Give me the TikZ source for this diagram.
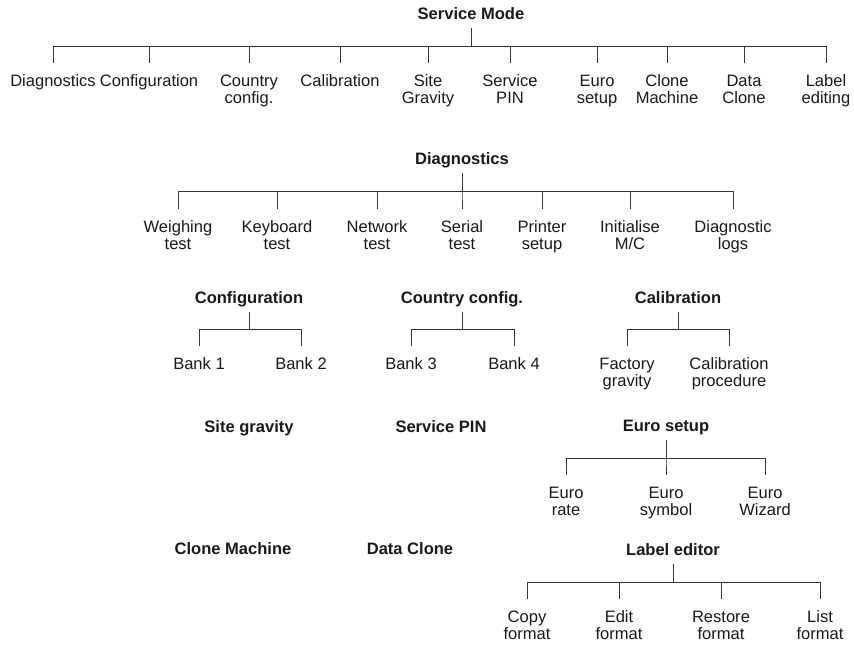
\documentclass[tikz,border=0pt]{standalone}
\usepackage{fontspec}
\setmainfont{Liberation Sans}
\tikzset{
  mhead/.style={font=\bfseries\fontsize{12.4}{12.75}\selectfont,
    inner sep=0pt, text height=9pt, text depth=3pt, outer ysep=3.75pt,
    anchor=base, text=black!90},
  mleaf/.style={font=\fontsize{12.4}{12.75}\selectfont, align=center,
    inner sep=0pt, outer ysep=9pt, anchor=north, text=black!90},
  mtree/.style={line width=0.75pt, black!80},
}
\begin{document}
\begin{tikzpicture}[x=0.75pt,y=-0.75pt]
\useasboundingbox (0,0) rectangle (854,644);
% service mode
\node[mhead] (sm) at (471,19) {Service Mode};
\node[mleaf] (sm1) at (53,63) {Diagnostics};
\node[mleaf] (sm2) at (149,63) {Configuration};
\node[mleaf] (sm3) at (249,63) {Country\\config.};
\node[mleaf] (sm4) at (340,63) {Calibration};
\node[mleaf] (sm5) at (428,63) {Site\\Gravity};
\node[mleaf] (sm6) at (510,63) {Service\\PIN};
\node[mleaf] (sm7) at (597,63) {Euro\\setup};
\node[mleaf] (sm8) at (667,63) {Clone\\Machine};
\node[mleaf] (sm9) at (744,63) {Data\\Clone};
\node[mleaf] (sm10) at (826,63) {Label\\editing};
\foreach \c in {sm1,sm2,sm3,sm4,sm5,sm6,sm7,sm8,sm9,sm10}
  \draw[mtree] (sm.south) -- ++(0,18) -| (\c.north);
% diagnostics
\node[mhead] (dg) at (462,164) {Diagnostics};
\node[mleaf] (dg1) at (178,209) {Weighing\\test};
\node[mleaf] (dg2) at (277,209) {Keyboard\\test};
\node[mleaf] (dg3) at (377,209) {Network\\test};
\node[mleaf] (dg4) at (462,209) {Serial\\test};
\node[mleaf] (dg5) at (542,209) {Printer\\setup};
\node[mleaf] (dg6) at (630,209) {Initialise\\M/C};
\node[mleaf] (dg7) at (733,209) {Diagnostic\\logs};
\foreach \c in {dg1,dg2,dg3,dg4,dg5,dg6,dg7}
  \draw[mtree] (dg.south) -- ++(0,18) -| (\c.north);
% configuration, country config., calibration
\node[mhead] (cf) at (249,303) {Configuration};
\node[mleaf] (cf1) at (199,346) {Bank 1};
\node[mleaf] (cf2) at (301,346) {Bank 2};
\node[mhead] (cc) at (462,303) {Country config.};
\node[mleaf] (cc1) at (411,346) {Bank 3};
\node[mleaf] (cc2) at (514,346) {Bank 4};
\node[mhead] (cb) at (678,303) {Calibration};
\node[mleaf] (cb1) at (627,346) {Factory\\gravity};
\node[mleaf] (cb2) at (729,346) {Calibration\\procedure};
\foreach \p/\c in {cf/cf1,cf/cf2,cc/cc1,cc/cc2,cb/cb1,cb/cb2}
  \draw[mtree] (\p.south) -- ++(0,17) -| (\c.north);
% site gravity, service pin, euro setup
\node[mhead] (sg) at (249,432) {Site gravity};
\node[mhead] (sp) at (441,432) {Service PIN};
\node[mhead] (eu) at (666,431) {Euro setup};
\node[mleaf] (eu1) at (566,475) {Euro\\rate};
\node[mleaf] (eu2) at (666,475) {Euro\\symbol};
\node[mleaf] (eu3) at (765,475) {Euro\\Wizard};
\foreach \c in {eu1,eu2,eu3}
  \draw[mtree] (eu.south) -- ++(0,18) -| (\c.north);
% clone machine, data clone, label editor
\node[mhead] (cm) at (233,554) {Clone Machine};
\node[mhead] (dc) at (410,554) {Data Clone};
\node[mhead] (le) at (673,555) {Label editor};
\node[mleaf] (le1) at (527,599) {Copy\\format};
\node[mleaf] (le2) at (619,599) {Edit\\format};
\node[mleaf] (le3) at (721,599) {Restore\\format};
\node[mleaf] (le4) at (820,599) {List\\format};
\foreach \c in {le1,le2,le3,le4}
  \draw[mtree] (le.south) -- ++(0,18) -| (\c.north);
\end{tikzpicture}
\end{document}
